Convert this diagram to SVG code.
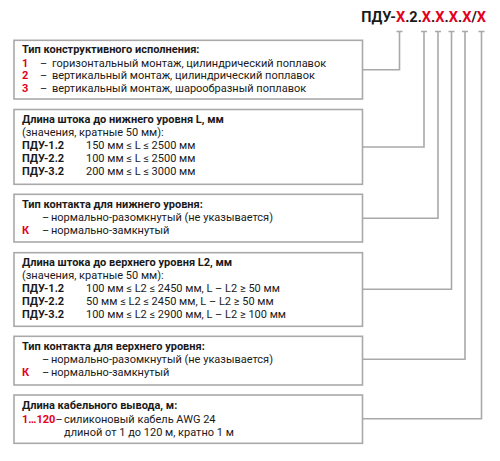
<svg xmlns="http://www.w3.org/2000/svg" width="500" height="461" viewBox="0 0 500 461">
<style>
.box{fill:#fff;stroke:#a9a9a9;stroke-width:1.6}
.ln{fill:none;stroke:#a9a9a9;stroke-width:1.6}
text{font-family:Roboto,"Liberation Sans",sans-serif;font-size:11px;fill:#1a1a1a}
.b{font-weight:bold}
.r{fill:#e3001b;font-weight:bold}
.t{font-size:14.5px;font-weight:bold}
</style>
<rect width="500" height="461" fill="#fff"/>
<g id="title">
<text class="t" x="486" y="21.5" text-anchor="end">ПДУ-<tspan class="r">Х</tspan>.2.<tspan class="r">Х</tspan>.<tspan class="r">Х</tspan>.<tspan class="r">Х</tspan>.<tspan class="r">Х</tspan>/<tspan class="r">Х</tspan></text>
</g>
<g id="connectors">
<path class="ln" d="M396.5 31.5H402.5M421 31.5H427M435 31.5H441M448.5 31.5H454.5M462 31.5H468M478.5 31.5H484.5"/>
<polyline class="ln" points="399.5,31.5 399.5,69.7 362.5,69.7"/>
<polyline class="ln" points="424,31.5 424,147 362.5,147"/>
<polyline class="ln" points="438,31.5 438,218.3 362.5,218.3"/>
<polyline class="ln" points="451.5,31.5 451.5,289.3 362.5,289.3"/>
<polyline class="ln" points="465,31.5 465,359.3 362.5,359.3"/>
<polyline class="ln" points="481.5,31.5 481.5,418.8 362.5,418.8"/>
</g>
<g id="box1">
<rect class="box" x="14" y="40.3" width="348.5" height="58.7"/>
<text class="b" x="22" y="53">Тип конструктивного исполнения:</text>
<text class="r" x="22" y="66.5">1</text><text x="40" y="66.5">–</text><text x="52" y="66.5">горизонтальный монтаж, цилиндрический поплавок</text>
<text class="r" x="22" y="79">2</text><text x="40" y="79">–</text><text x="52" y="79">вертикальный монтаж, цилиндрический поплавок</text>
<text class="r" x="22" y="91.5">3</text><text x="40" y="91.5">–</text><text x="52" y="91.5">вертикальный монтаж, шарообразный поплавок</text>
</g>
<g id="box2">
<rect class="box" x="14" y="109.5" width="348.5" height="74.8"/>
<text class="b" x="22" y="123">Длина штока до нижнего уровня L, мм</text>
<text x="22" y="136">(значения, кратные 50 мм):</text>
<text class="b" x="22" y="149">ПДУ-1.2</text><text x="86" y="149">150 мм ≤ L ≤ 2500 мм</text>
<text class="b" x="22" y="162">ПДУ-2.2</text><text x="86" y="162">100 мм ≤ L ≤ 2500 мм</text>
<text class="b" x="22" y="175">ПДУ-3.2</text><text x="86" y="175">200 мм ≤ L ≤ 3000 мм</text>
</g>
<g id="box3">
<rect class="box" x="14" y="194.3" width="348.5" height="47.7"/>
<text class="b" x="22" y="208">Тип контакта для нижнего уровня:</text>
<text x="42" y="221">–</text><text x="51" y="221">нормально-разомкнутый (не указывается)</text>
<text class="r" x="22" y="234">К</text><text x="42" y="234">–</text><text x="51" y="234">нормально-замкнутый</text>
</g>
<g id="box4">
<rect class="box" x="14" y="252.7" width="348.5" height="73.6"/>
<text class="b" x="22" y="266">Длина штока до верхнего уровня L2, мм</text>
<text x="22" y="279">(значения, кратные 50 мм):</text>
<text class="b" x="22" y="292">ПДУ-1.2</text><text x="86" y="292">100 мм ≤ L2 ≤ 2450 мм, L – L2 ≥ 50 мм</text>
<text class="b" x="22" y="305">ПДУ-2.2</text><text x="86" y="305">50 мм ≤ L2 ≤ 2450 мм, L – L2 ≥ 50 мм</text>
<text class="b" x="22" y="318">ПДУ-3.2</text><text x="86" y="318">100 мм ≤ L2 ≤ 2900 мм, L – L2 ≥ 100 мм</text>
</g>
<g id="box5">
<rect class="box" x="14" y="336.3" width="348.5" height="48.7"/>
<text class="b" x="22" y="350">Тип контакта для верхнего уровня:</text>
<text x="42" y="363">–</text><text x="51" y="363">нормально-разомкнутый (не указывается)</text>
<text class="r" x="22" y="376">К</text><text x="42" y="376">–</text><text x="51" y="376">нормально-замкнутый</text>
</g>
<g id="box6">
<rect class="box" x="14" y="395" width="348.5" height="48.3"/>
<text class="b" x="22" y="409">Длина кабельного вывода, м:</text>
<text class="r" x="22" y="423">1…120</text><text x="55.5" y="423">–</text><text x="64" y="423">силиконовый кабель AWG 24</text>
<text x="64" y="436">длиной от 1 до 120 м, кратно 1 м</text>
</g>
</svg>
